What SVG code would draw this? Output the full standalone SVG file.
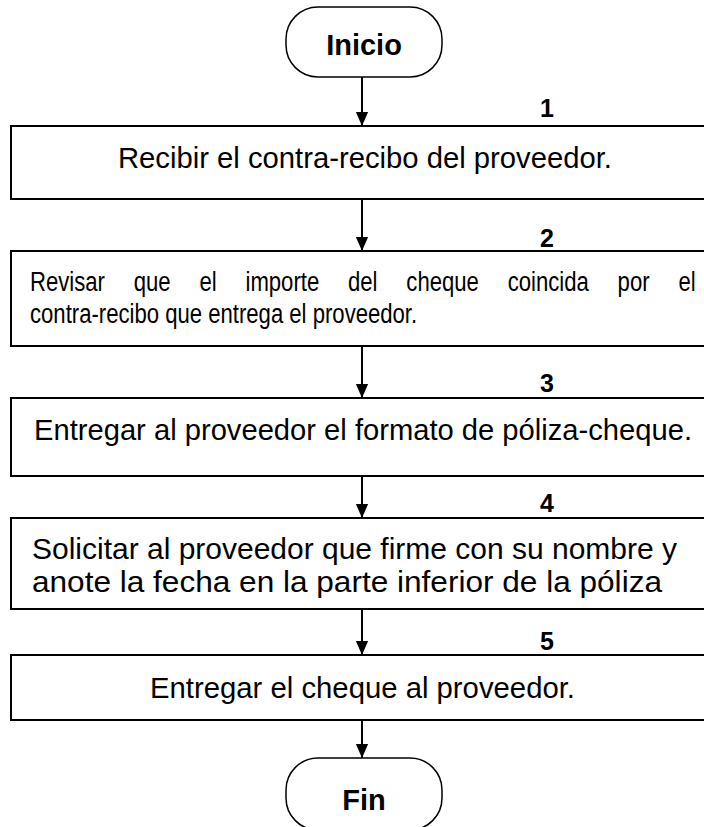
<svg xmlns="http://www.w3.org/2000/svg" width="704" height="827" viewBox="0 0 704 827">
<style>
.box{fill:#fff;stroke:#000;stroke-width:2}
.term{fill:#fff;stroke:#000;stroke-width:1.5}
.t{font-family:"Liberation Sans",Arial,sans-serif;font-size:29px;fill:#000}
.nw{font-family:"Liberation Sans",Arial,sans-serif;font-size:28px;fill:#000}
.c{text-anchor:middle}
.b{font-weight:bold}
.n{font-family:"Liberation Sans",Arial,sans-serif;font-size:25px;font-weight:bold;fill:#000;text-anchor:middle}
.con{stroke:#000;stroke-width:2;fill:none;marker-end:url(#ah)}
</style>
<defs>
<marker id="ah" markerWidth="14" markerHeight="16" refX="16" refY="7" orient="auto" markerUnits="userSpaceOnUse" viewBox="0 0 16 14">
<path d="M0,0 L16,7 L0,14 Z" fill="#000"/>
</marker>
</defs>
<g id="connectors">
<line class="con" x1="362" y1="77" x2="362" y2="126"/>
<line class="con" x1="362" y1="199" x2="362" y2="251"/>
<line class="con" x1="362" y1="346" x2="362" y2="398"/>
<line class="con" x1="362" y1="476" x2="362" y2="518"/>
<line class="con" x1="362" y1="609" x2="362" y2="655"/>
<line class="con" x1="362" y1="720" x2="362" y2="758"/>
</g>
<g id="inicio">
<rect class="term" x="286" y="7" width="156" height="70" rx="32" ry="32"/>
<text class="t c b" x="364" y="55">Inicio</text>
</g>
<g id="step1">
<text class="n" x="547" y="117">1</text>
<rect class="box" x="11" y="126" width="700" height="73"/>
<text class="t" x="118" y="168" textLength="494" lengthAdjust="spacingAndGlyphs">Recibir el contra-recibo del proveedor.</text>
</g>
<g id="step2">
<text class="n" x="547" y="247">2</text>
<rect class="box" x="11" y="251" width="700" height="95"/>
<g transform="translate(30 0) scale(0.79 1)">
<text class="nw" x="0" y="291" word-spacing="28.7">Revisar que el importe del cheque coincida por el</text>
<text class="nw" x="0" y="323">contra-recibo que entrega el proveedor.</text>
</g>
</g>
<g id="step3">
<text class="n" x="547" y="392">3</text>
<rect class="box" x="11" y="398" width="700" height="78"/>
<text class="t" x="34" y="440" textLength="658" lengthAdjust="spacingAndGlyphs">Entregar al proveedor el formato de póliza-cheque.</text>
</g>
<g id="step4">
<text class="n" x="547" y="512">4</text>
<rect class="box" x="11" y="518" width="700" height="91"/>
<text class="t" x="32" y="559" textLength="645" lengthAdjust="spacingAndGlyphs">Solicitar al proveedor que firme con su nombre y</text>
<text class="t" x="32" y="592" textLength="630" lengthAdjust="spacingAndGlyphs">anote la fecha en la parte inferior de la póliza</text>
</g>
<g id="step5">
<text class="n" x="547" y="650">5</text>
<rect class="box" x="11" y="655" width="700" height="65"/>
<text class="t" x="150" y="698" textLength="425" lengthAdjust="spacingAndGlyphs">Entregar el cheque al proveedor.</text>
</g>
<g id="fin">
<rect class="term" x="286" y="758" width="156" height="72" rx="32" ry="32"/>
<text class="t c b" x="364" y="810">Fin</text>
</g>
</svg>
